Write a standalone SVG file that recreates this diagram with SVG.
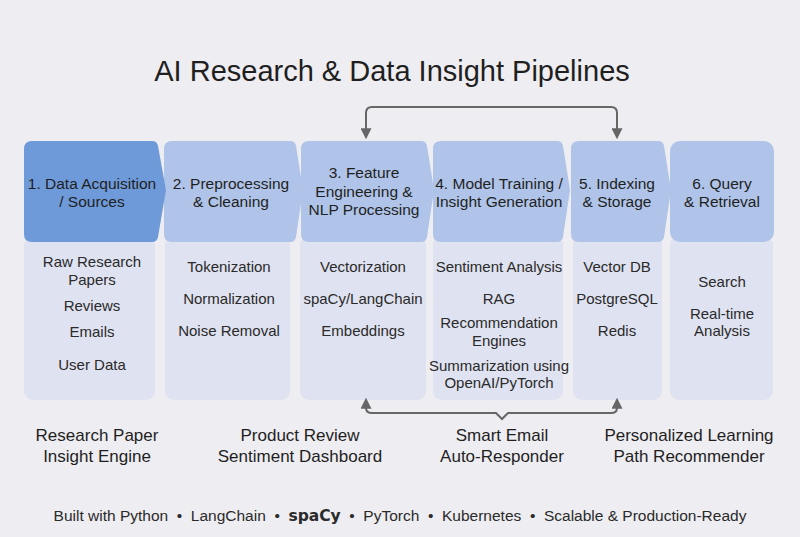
<svg xmlns="http://www.w3.org/2000/svg" width="800" height="537" viewBox="0 0 800 537">
<defs>
<style>
text{font-family:"Liberation Sans",Arial,sans-serif;fill:#1f1f1f;text-anchor:middle}
.title{font-size:29px;font-weight:500}
.hd{font-size:15.5px}
.it{font-size:15px;fill:#2a2a2a}
.lb{font-size:17px}
.ft{font-size:15.5px;fill:#2a2a2a}
.c1{fill:#6f9ad9}
.c2{fill:#afc4e8}
.pn{fill:#dfe2f0}
.conn{fill:none;stroke:#666;stroke-width:2}
</style>
<marker id="ah" viewBox="0 0 10 10" markerUnits="userSpaceOnUse" markerWidth="11" markerHeight="11" refX="8" refY="5" orient="auto-start-reverse">
<path d="M0,0 L10,5 L0,10 z" fill="#666"/>
</marker>
</defs>
<rect width="800" height="537" fill="#eeedf1"/>
<text class="title" x="392" y="81">AI Research &amp; Data Insight Pipelines</text>

<g id="panels">
<rect class="pn" x="24" y="236" width="131" height="164" rx="9"/>
<rect class="pn" x="165" y="236" width="125" height="164" rx="9"/>
<rect class="pn" x="300" y="236" width="126" height="164" rx="9"/>
<rect class="pn" x="433" y="236" width="130" height="164" rx="9"/>
<rect class="pn" x="573" y="236" width="89" height="164" rx="9"/>
<rect class="pn" x="670" y="236" width="103" height="164" rx="9"/>
</g>

<g id="node6">
<rect class="c2" x="670" y="141" width="104" height="101" rx="10"/>
<text class="hd" x="722" y="189">6. Query</text>
<text class="hd" x="722" y="207">&amp; Retrieval</text>
<text class="it" x="722" y="287">Search</text>
<text class="it" x="722" y="319">Real-time</text>
<text class="it" x="722" y="336">Analysis</text>
</g>
<g id="node5">
<path class="c2" d="M579,141 H658 Q663,141 664,146 L671,190 L664,237 Q663,242 658,242 H579 Q571,242 571,234 V149 Q571,141 579,141 Z"/>
<text class="hd" x="617" y="189">5. Indexing</text>
<text class="hd" x="617" y="207">&amp; Storage</text>
<text class="it" x="617" y="272">Vector DB</text>
<text class="it" x="617" y="304">PostgreSQL</text>
<text class="it" x="617" y="336">Redis</text>
</g>
<g id="node4">
<path class="c2" d="M441,141 H557 Q562,141 563,146 L570,190 L563,237 Q562,242 557,242 H441 Q433,242 433,234 V149 Q433,141 441,141 Z"/>
<text class="hd" x="499" y="189">4. Model Training /</text>
<text class="hd" x="499" y="207">Insight Generation</text>
<text class="it" x="499" y="272">Sentiment Analysis</text>
<text class="it" x="499" y="304">RAG</text>
<text class="it" x="499" y="328">Recommendation</text>
<text class="it" x="499" y="346">Engines</text>
<text class="it" x="499" y="371">Summarization using</text>
<text class="it" x="499" y="388">OpenAI/PyTorch</text>
</g>
<g id="node3">
<path class="c2" d="M309,141 H421 Q426,141 427,146 L434,190 L427,237 Q426,242 421,242 H309 Q301,242 301,234 V149 Q301,141 309,141 Z"/>
<text class="hd" x="364" y="178">3. Feature</text>
<text class="hd" x="364" y="197">Engineering &amp;</text>
<text class="hd" x="364" y="215">NLP Processing</text>
<text class="it" x="363" y="272">Vectorization</text>
<text class="it" x="363" y="304">spaCy/LangChain</text>
<text class="it" x="363" y="336">Embeddings</text>
</g>
<g id="node2">
<path class="c2" d="M172,141 H290 Q295,141 296,146 L303,190 L296,237 Q295,242 290,242 H172 Q164,242 164,234 V149 Q164,141 172,141 Z"/>
<text class="hd" x="231" y="189">2. Preprocessing</text>
<text class="hd" x="231" y="207">&amp; Cleaning</text>
<text class="it" x="229" y="272">Tokenization</text>
<text class="it" x="229" y="304">Normalization</text>
<text class="it" x="229" y="336">Noise Removal</text>
</g>
<g id="node1">
<path class="c1" d="M32,141 H152 Q157,141 158,146 L166,190 L158,237 Q157,242 152,242 H32 Q24,242 24,234 V149 Q24,141 32,141 Z"/>
<text class="hd" x="92" y="189">1. Data Acquisition</text>
<text class="hd" x="92" y="207">/ Sources</text>
<text class="it" x="92" y="267">Raw Research</text>
<text class="it" x="92" y="285">Papers</text>
<text class="it" x="92" y="311">Reviews</text>
<text class="it" x="92" y="337">Emails</text>
<text class="it" x="92" y="370">User Data</text>
</g>

<g id="connectors">
<path class="conn" d="M366,137 V113 Q366,107 372,107 H611 Q617,107 617,113 V137" marker-start="url(#ah)" marker-end="url(#ah)"/>
<path class="conn" d="M366,400 V408 Q366,413 372,413 H496 L502,419 L508,413 H611 Q617,413 617,408 V400" marker-start="url(#ah)" marker-end="url(#ah)"/>
</g>

<g id="outcomes">
<text class="lb" x="97" y="441">Research Paper</text>
<text class="lb" x="97" y="462">Insight Engine</text>
<text class="lb" x="300" y="441">Product Review</text>
<text class="lb" x="300" y="462">Sentiment Dashboard</text>
<text class="lb" x="502" y="441">Smart Email</text>
<text class="lb" x="502" y="462">Auto-Responder</text>
<text class="lb" x="689" y="441">Personalized Learning</text>
<text class="lb" x="689" y="462">Path Recommender</text>
</g>

<text class="ft" x="400" y="521" xml:space="preserve">Built with Python  •  LangChain  •  <tspan font-weight="bold" font-family="DejaVu Sans">spaCy</tspan>  •  PyTorch  •  Kubernetes  •  Scalable &amp; Production-Ready</text>
</svg>
